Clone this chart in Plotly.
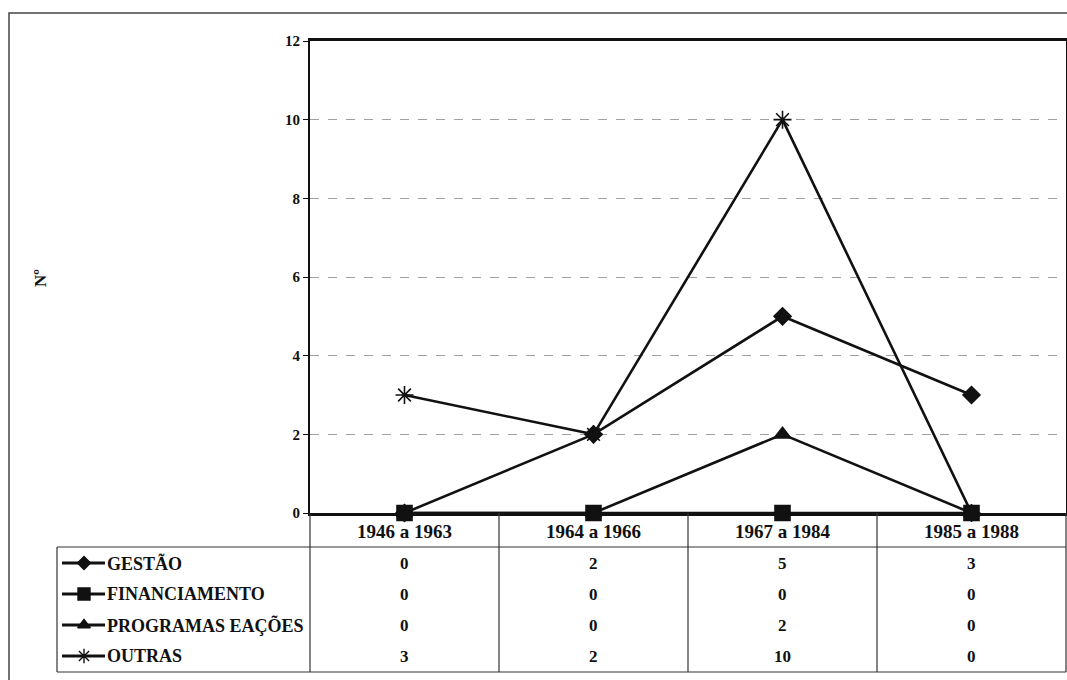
import plotly.graph_objects as go

categories = ["1946 a 1963", "1964 a 1966", "1967 a 1984", "1985 a 1988"]
series_names = ["GESTÃO", "FINANCIAMENTO", "PROGRAMAS EAÇÕES", "OUTRAS"]
gestao = [0, 2, 5, 3]
financiamento = [0, 0, 0, 0]
programas = [0, 0, 2, 0]
outras = [3, 2, 10, 0]
y_ticks = [0, 2, 4, 6, 8, 10, 12]
y_title = "Nº"

series_values = [gestao, financiamento, programas, outras]
symbols = ["diamond", "square", "triangle-up", "asterisk-open"]
sizes = [13, 15, 14, 15]

W, H = 1067, 680
FONT = "Liberation Serif"
INK = "#111111"

# layout geometry (pixels)
PL, PR, PT, PB = 310, 1066, 41, 513
ROW0, ROWH = 563, 31
TAB_L, TAB_HDR, TAB_B = 57, 547, 672

fig = go.Figure()

for name, vals, sym, sz in zip(series_names, series_values, symbols, sizes):
    fig.add_trace(go.Scatter(
        x=categories, y=vals, name=name, mode="lines+markers",
        line=dict(color=INK, width=2.6),
        marker=dict(symbol=sym, size=sz, color=INK, line=dict(color=INK, width=1.6)),
        cliponaxis=False, showlegend=False, xaxis="x", yaxis="y"))

def seg(x0, y0, x1, y1, w=1.2, c="#333333"):
    fig.add_trace(go.Scatter(x=[x0, x1], y=[y0, y1], mode="lines",
                             line=dict(color=c, width=w), hoverinfo="skip",
                             showlegend=False, xaxis="x2", yaxis="y2"))

# table lines
seg(TAB_L, TAB_HDR, PR, TAB_HDR)
seg(TAB_L, TAB_B, PR, TAB_B)
seg(TAB_L, TAB_HDR, TAB_L, TAB_B)
colw = (PR - PL) / len(categories)
for k in range(len(categories) + 1):
    xx = PL + k * colw
    seg(xx, PB, xx, TAB_B)

# legend keys in table
for i, (sym, sz) in enumerate(zip(symbols, sizes)):
    yy = ROW0 + i * ROWH
    fig.add_trace(go.Scatter(x=[62, 105], y=[yy, yy], mode="lines",
                             line=dict(color=INK, width=2.8), hoverinfo="skip",
                             showlegend=False, xaxis="x2", yaxis="y2"))
    fig.add_trace(go.Scatter(x=[84], y=[yy], mode="markers",
                             marker=dict(symbol=sym, size=sz - 3, color=INK,
                                         line=dict(color=INK, width=1.4)),
                             hoverinfo="skip", showlegend=False,
                             xaxis="x2", yaxis="y2"))

annotations = []
for i, name in enumerate(series_names):
    yy = ROW0 + i * ROWH
    annotations.append(dict(x=105, y=yy, xref="x2", yref="y2", text=f"<b>{name}</b>",
                            showarrow=False, xanchor="left", yanchor="middle",
                            font=dict(family=FONT, size=18, color=INK)))
    for c, v in zip(categories, series_values[i]):
        annotations.append(dict(x=c, y=yy, xref="x", yref="y2", text=f"<b>{v}</b>",
                                showarrow=False, xanchor="center", yanchor="middle",
                                font=dict(family=FONT, size=17, color=INK)))
for c in categories:
    annotations.append(dict(x=c, y=531, xref="x", yref="y2", text=f"<b>{c}</b>",
                            showarrow=False, xanchor="center", yanchor="middle",
                            font=dict(family=FONT, size=19, color=INK)))
annotations.append(dict(x=40, y=278, xref="x2", yref="y2", text=f"<b>{y_title}</b>",
                        showarrow=False, textangle=-90,
                        font=dict(family=FONT, size=17, color=INK)))

fig.update_layout(
    width=W, height=H,
    margin=dict(l=0, r=0, t=0, b=0, pad=0, autoexpand=False),
    paper_bgcolor="white", plot_bgcolor="rgba(0,0,0,0)",
    font=dict(family=FONT, color=INK),
    annotations=annotations,
    xaxis=dict(type="category", categoryorder="array", categoryarray=categories,
               range=[-0.5, len(categories) - 0.5],
               domain=[PL / W, PR / W], anchor="y", automargin=False,
               showgrid=False, zeroline=False, showticklabels=False, ticks="",
               showline=True, linecolor=INK, linewidth=2.5, mirror=True),
    yaxis=dict(range=[0, 12], tickvals=y_ticks, ticktext=[f"<b>{t}</b>" for t in y_ticks],
               domain=[(H - PB) / H, (H - PT) / H], anchor="x", automargin=False,
               showgrid=True, gridcolor="#a0a0a0", griddash="dash", gridwidth=1,
               zeroline=False, ticks="outside", ticklen=5, tickcolor=INK,
               tickfont=dict(family=FONT, size=15, color=INK),
               showline=True, linecolor=INK, linewidth=2, mirror=True),
    xaxis2=dict(range=[0, W], domain=[0, 1], anchor="y2", visible=False,
                fixedrange=True, automargin=False),
    yaxis2=dict(range=[H, 0], domain=[0, 1], anchor="x2", visible=False,
                fixedrange=True, automargin=False),
    shapes=[dict(type="rect", xref="paper", yref="paper",
                 x0=9 / W, x1=1.02, y0=-0.02, y1=(H - 13) / H,
                 line=dict(color="#444444", width=1.5))],
)

fig.write_html("out.html", config={"displayModeBar": False},
               post_script="document.body.style.margin='0';document.body.style.overflow='hidden';")
